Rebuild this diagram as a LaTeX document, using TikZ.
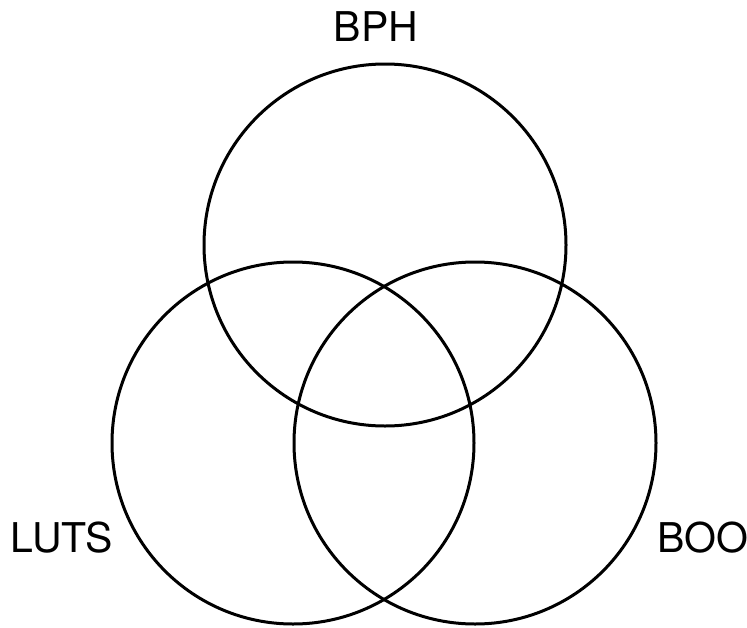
\documentclass[tikz,border=0pt]{standalone}
\usepackage{fontspec}
\setmainfont{TeX Gyre Heros}
\begin{document}
\begin{tikzpicture}[x=1pt,y=-1pt,
  ring/.style={draw=black,line width=3pt,circle,minimum size=362pt,inner sep=0pt},
  lbl/.style={anchor=base,inner sep=0pt,font=\fontsize{41}{48}\selectfont}]
\useasboundingbox (0,0) rectangle (747,627);
\node[ring] (bph) at (385,245) {};
\node[ring] (luts) at (293,443) {};
\node[ring] (boo) at (475,443) {};
\node[lbl] (tbph) at (376,41) {BPH};
\node[lbl] (tluts) at (62,552) {LUTS};
\node[lbl] (tboo) at (703,552) {BOO};
\end{tikzpicture}
\end{document}
